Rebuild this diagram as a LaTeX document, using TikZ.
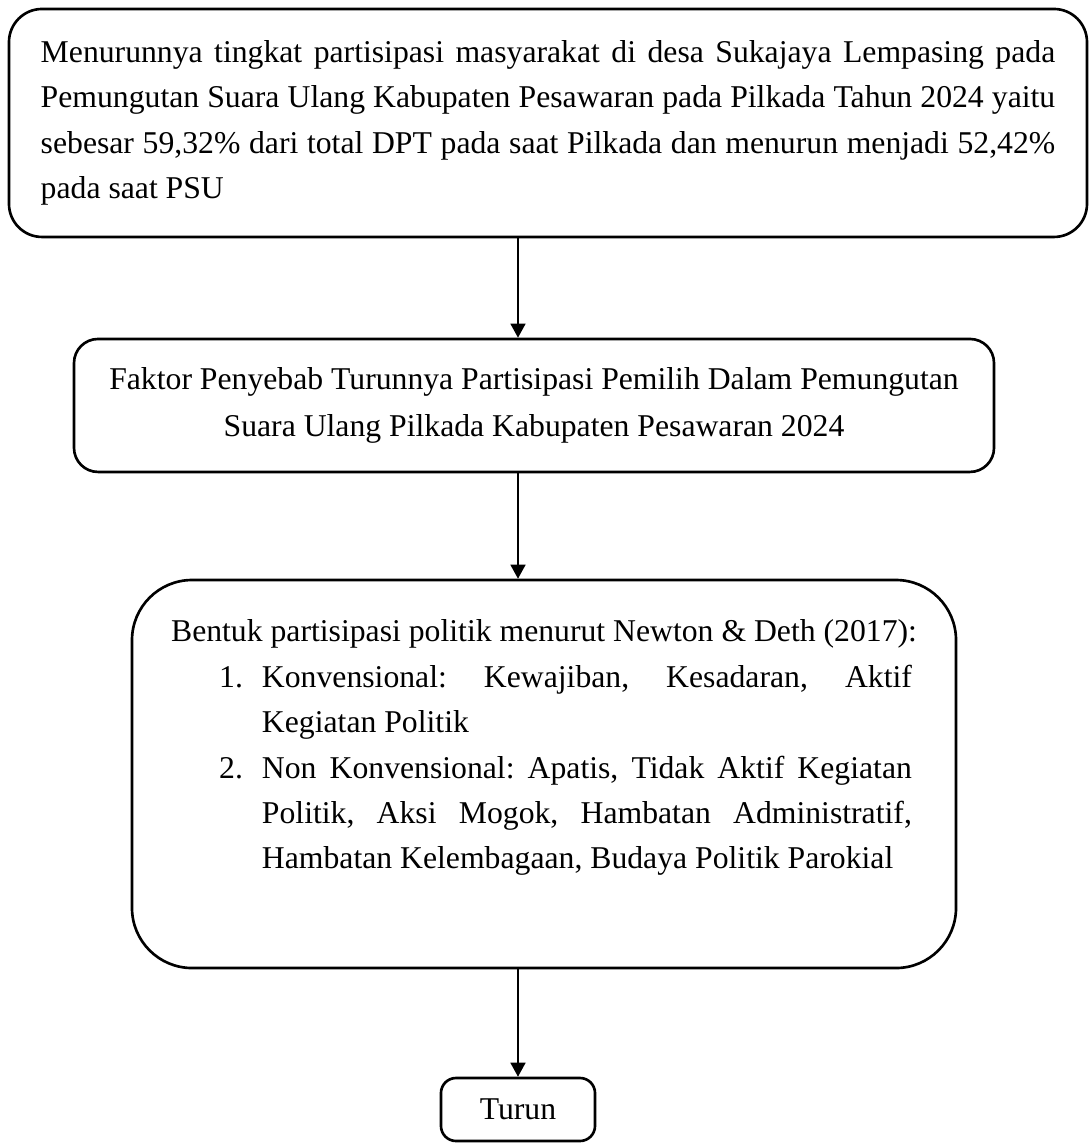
\documentclass[tikz,border=0pt]{standalone}
\usepackage{fontspec}
\setmainfont{Liberation Serif}
\usetikzlibrary{arrows.meta}
\frenchspacing

\begin{document}
\begin{tikzpicture}[
  box/.style = {rectangle, draw = black, line width = 1pt, align = center},
  flow/.style = {-{Triangle[length = 5.3pt, width = 5.7pt]}, line width = 0.5pt}]
  \useasboundingbox (0,0) rectangle (14.487,-15.219);

  \node [box, rounded corners = 0.44cm, minimum width = 14.341cm,
  minimum height = 3.033cm, align = left,
  font = \fontsize{12}{17.2}\selectfont] (masalah) at (7.290,-1.636)
  {\makebox[384pt][s]{Menurunnya tingkat partisipasi masyarakat di desa Sukajaya Lempasing pada}\\
  \makebox[384pt][s]{Pemungutan Suara Ulang Kabupaten Pesawaran pada Pilkada Tahun 2024 yaitu}\\
  \makebox[384pt][s]{sebesar 59,32\% dari total DPT pada saat Pilkada dan menurun menjadi 52,42\%}\\
  pada saat PSU};

  \node [box, below of = masalah, node distance = 3.758cm, xshift = -0.186cm,
  rounded corners = 0.32cm, minimum width = 12.239cm, minimum height = 1.769cm,
  font = \fontsize{12}{17.8}\selectfont] (faktor)
  {Faktor Penyebab Turunnya Partisipasi Pemilih Dalam Pemungutan\\
  Suara Ulang Pilkada Kabupaten Pesawaran 2024};

  \node [box, below of = faktor, node distance = 4.903cm, xshift = 0.133cm,
  rounded corners = 0.8cm, minimum width = 10.962cm, minimum height = 5.162cm,
  align = left, font = \fontsize{12}{17.2}\selectfont] (bentuk)
  {Bentuk partisipasi politik menurut Newton \& Deth (2017):\\
  \hspace*{18.2pt}\makebox[16.2pt][l]{1.}\makebox[246pt][s]{Konvensional: Kewajiban, Kesadaran, Aktif}\\
  \hspace*{34.4pt}Kegiatan Politik\\
  \hspace*{18.2pt}\makebox[16.2pt][l]{2.}\makebox[246pt][s]{Non Konvensional: Apatis, Tidak Aktif Kegiatan}\\
  \hspace*{34.4pt}\makebox[246pt][s]{Politik, Aksi Mogok, Hambatan Administratif,}\\
  \hspace*{34.4pt}Hambatan Kelembagaan, Budaya Politik Parokial\\[5.3pt]
  \mbox{}};

  \node [box, below of = bentuk, node distance = 4.463cm, xshift = -0.346cm,
  rounded corners = 0.2cm, minimum width = 2.049cm, minimum height = 0.838cm,
  font = \fontsize{12}{14}\selectfont] (turun) {Turun};

  \draw [flow] (masalah.south -| turun) -- (faktor.north -| turun);
  \draw [flow] (faktor.south -| turun) -- (bentuk.north -| turun);
  \draw [flow] (bentuk.south -| turun) -- (turun);
\end{tikzpicture}
\end{document}
